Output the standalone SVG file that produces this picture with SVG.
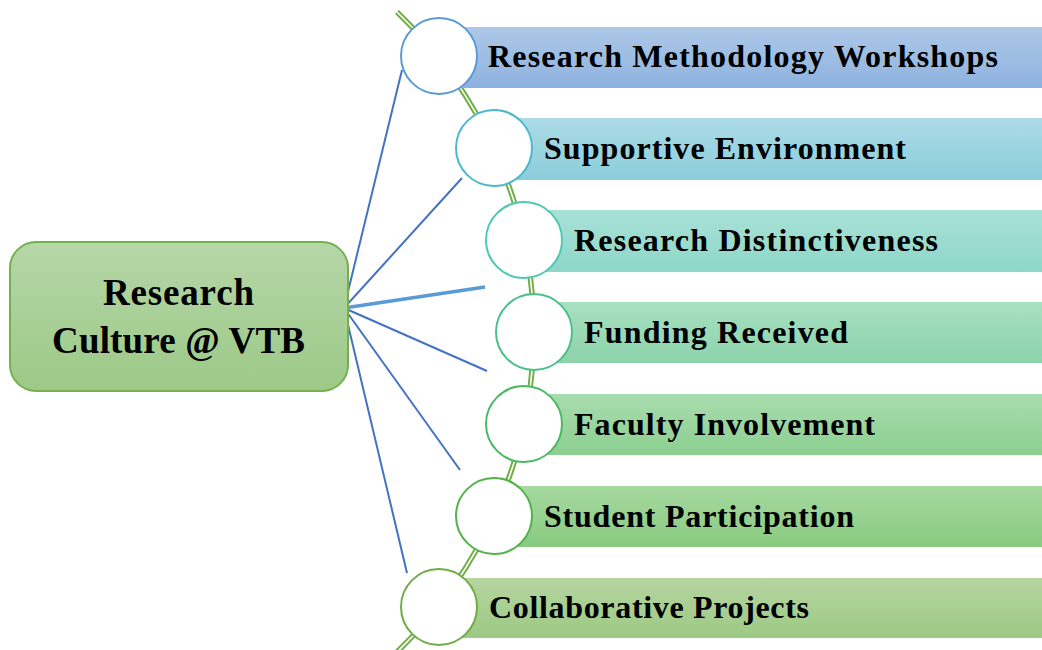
<svg xmlns="http://www.w3.org/2000/svg" width="1042" height="650" viewBox="0 0 1042 650">
<defs>
<linearGradient id="g1" x1="0" y1="0" x2="0" y2="1"><stop offset="0" stop-color="#adc8e8"/><stop offset="1" stop-color="#8db2df"/></linearGradient>
<linearGradient id="g2" x1="0" y1="0" x2="0" y2="1"><stop offset="0" stop-color="#acdbe6"/><stop offset="1" stop-color="#8bcddb"/></linearGradient>
<linearGradient id="g3" x1="0" y1="0" x2="0" y2="1"><stop offset="0" stop-color="#a9e1d7"/><stop offset="1" stop-color="#8dd7c8"/></linearGradient>
<linearGradient id="g4" x1="0" y1="0" x2="0" y2="1"><stop offset="0" stop-color="#a8e0c2"/><stop offset="1" stop-color="#8cd3aa"/></linearGradient>
<linearGradient id="g5" x1="0" y1="0" x2="0" y2="1"><stop offset="0" stop-color="#a8dcae"/><stop offset="1" stop-color="#8ccf90"/></linearGradient>
<linearGradient id="g6" x1="0" y1="0" x2="0" y2="1"><stop offset="0" stop-color="#a6d9a0"/><stop offset="1" stop-color="#88cb80"/></linearGradient>
<linearGradient id="g7" x1="0" y1="0" x2="0" y2="1"><stop offset="0" stop-color="#b5d5a0"/><stop offset="1" stop-color="#9dc984"/></linearGradient>
<linearGradient id="gc" x1="0" y1="0" x2="0" y2="1"><stop offset="0" stop-color="#b6d7a8"/><stop offset="1" stop-color="#9cc987"/></linearGradient>
<style>
.lbl{font-family:"Liberation Serif","Times New Roman",serif;font-weight:bold;font-size:32px;fill:#000}
.hub{font-family:"Liberation Serif","Times New Roman",serif;font-weight:bold;font-size:37px;fill:#000}
.c{fill:#fff;stroke-width:2}
.con{stroke:#4472c4;stroke-width:2;fill:none}
</style>
</defs>
<g id="arc">
<path d="M397,12 A443,443 0 0 1 397,652" fill="none" stroke="#70ad47" stroke-width="5.5"/>
<path d="M397,12 A443,443 0 0 1 397,652" fill="none" stroke="#fff" stroke-width="1.6"/>
</g>
<g id="connectors">
<line class="con" x1="344" y1="308" x2="402" y2="70"/>
<line class="con" x1="344" y1="308" x2="462" y2="178"/>
<line x1="344" y1="308" x2="485" y2="287" stroke="#5b9bd5" stroke-width="3.5"/>
<line class="con" x1="344" y1="308" x2="487" y2="371"/>
<line class="con" x1="344" y1="308" x2="460" y2="470"/>
<line class="con" x1="344" y1="308" x2="407" y2="573"/>
</g>
<g id="center">
<rect x="10" y="242" width="338" height="149" rx="26" fill="url(#gc)" stroke="#76b04e" stroke-width="2"/>
<text class="hub" x="103" y="305" textLength="151">Research</text>
<text class="hub" x="52" y="353" textLength="253">Culture @ VTB</text>
</g>
<g id="n1">
<rect x="439" y="27" width="603" height="61" fill="url(#g1)"/>
<circle class="c" cx="439" cy="56" r="38" stroke="#5b9bd5"/>
<text class="lbl" x="488" y="67" textLength="510">Research Methodology Workshops</text>
</g>
<g id="n2">
<rect x="494" y="118" width="548" height="62" fill="url(#g2)"/>
<circle class="c" cx="494" cy="148" r="38" stroke="#4bb8cc"/>
<text class="lbl" x="544" y="159" textLength="362">Supportive Environment</text>
</g>
<g id="n3">
<rect x="524" y="210" width="518" height="62" fill="url(#g3)"/>
<circle class="c" cx="524" cy="240" r="38" stroke="#4ec9b2"/>
<text class="lbl" x="574" y="251" textLength="364">Research Distinctiveness</text>
</g>
<g id="n4">
<rect x="534" y="302" width="508" height="61" fill="url(#g4)"/>
<circle class="c" cx="534" cy="332" r="38" stroke="#4cc08a"/>
<text class="lbl" x="584" y="343" textLength="264">Funding Received</text>
</g>
<g id="n5">
<rect x="524" y="394" width="518" height="61" fill="url(#g5)"/>
<circle class="c" cx="524" cy="424" r="38" stroke="#4cb866"/>
<text class="lbl" x="574" y="435" textLength="301">Faculty Involvement</text>
</g>
<g id="n6">
<rect x="494" y="486" width="548" height="61" fill="url(#g6)"/>
<circle class="c" cx="494" cy="516" r="38" stroke="#55b24a"/>
<text class="lbl" x="544" y="527" textLength="310">Student Participation</text>
</g>
<g id="n7">
<rect x="439" y="578" width="603" height="60" fill="url(#g7)"/>
<circle class="c" cx="439" cy="607" r="38" stroke="#70ad47"/>
<text class="lbl" x="489" y="618" textLength="320">Collaborative Projects</text>
</g>
</svg>
